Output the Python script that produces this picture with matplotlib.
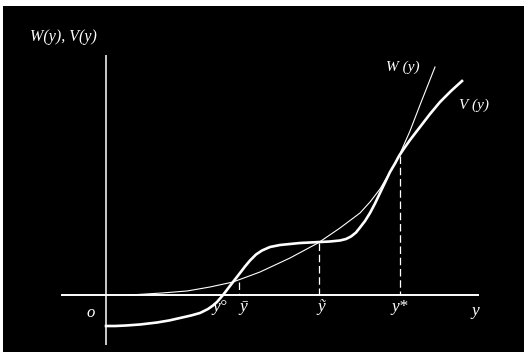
import matplotlib
matplotlib.use("Agg")
import matplotlib.pyplot as plt

# Curve V(y) (thick)
V_x = [0, 0.9, 2.0, 3.4, 5.1, 6.3, 7.4, 8.5, 9.4, 10.2, 10.7, 11.1, 11.7, 12.2, 12.7,
       13.4, 13.9, 14.4, 15.0, 15.6, 16.4, 17.4, 18.4, 19.4, 20.4, 21.4, 22.4, 23.4,
       24.0, 24.5, 25.0, 25.4, 25.9, 26.4, 26.9, 27.4, 27.9, 28.4, 28.9, 29.3, 29.8,
       30.4, 31.4, 32.4, 33.4, 34.5, 35.6]
V_y = [-3.1, -3.1, -3.05, -2.95, -2.75, -2.55, -2.3, -2.05, -1.8, -1.4, -1.05, -0.7, 0, 0.65, 1.3,
       2.2, 2.85, 3.45, 4.05, 4.45, 4.8, 5.0, 5.1, 5.2, 5.25, 5.3, 5.35, 5.45,
       5.6, 5.85, 6.25, 6.75, 7.4, 8.2, 9.15, 10.2, 11.25, 12.3, 13.15, 13.9, 14.65,
       15.5, 16.8, 18.1, 19.3, 20.4, 21.4]

# Curve W(y) (thin)
W_x = [2.4, 4.0, 5.6, 8.1, 10.4, 12.7, 15.4, 18.4, 21.2, 23.4, 25.4, 26.4, 27.4, 28.4, 29.3,
       30.4, 31.4, 32.9]
W_y = [0, 0.1, 0.2, 0.4, 0.8, 1.3, 2.3, 3.7, 5.2, 6.7, 8.2, 9.3, 10.6, 12.3, 13.9,
       16.4, 19.0, 22.8]

# Marked points on the y axis: (x, top of dashed line)
mark_x = [13.3, 21.3, 29.4]
mark_top = [1.3, 5.2, 13.9]

tick_labels = ["y°", "ȳ", "ỹ", "y*"]
tick_label_x = [11.4, 13.7, 21.5, 29.4]

fig = plt.figure(figsize=(5.28, 3.56), dpi=100, facecolor="white")
ax = fig.add_axes([3 / 528, 4 / 356, 521 / 528, 346 / 356])
ax.set_facecolor("black")
ax.set_xlim(-10.3, 41.8)
ax.set_ylim(-5.7, 28.9)
ax.set_xticks([])
ax.set_yticks([])
for s in ax.spines.values():
    s.set_visible(False)

# axes lines
ax.plot([-4.5, 37.3], [0, 0], color="white", lw=1.4, solid_capstyle="butt")
ax.plot([0, 0], [-5.0, 24.0], color="white", lw=1.1, solid_capstyle="butt")

# curves
ax.plot(W_x, W_y, color="white", lw=0.8)
ax.plot(V_x, V_y, color="white", lw=1.9, solid_joinstyle="round")

# dashed lines
for mx, mt in zip(mark_x, mark_top):
    ax.plot([mx, mx], [mt, 0], color="white", lw=0.9, linestyle=(0, (6, 3)))

font = dict(family="Liberation Serif", style="italic", color="white")
ax.text(-4.3, 25.8, "W(y), V(y)", fontsize=11.5, ha="center", va="center", **font)
ax.text(-1.5, -1.8, "o", fontsize=12, ha="center", va="center", **font)
for lx, lab in zip(tick_label_x, tick_labels):
    ax.text(lx, -1.2, lab, fontsize=12.5, ha="center", va="center", **font)
ax.text(36.9, -1.6, "y", fontsize=12.5, ha="center", va="center", **font)
ax.text(29.7, 22.8, "W (y)", fontsize=11, ha="center", va="center", **font)
ax.text(36.8, 19.0, "V (y)", fontsize=11, ha="center", va="center", **font)

fig.savefig("out.png", dpi=100, facecolor="white")
